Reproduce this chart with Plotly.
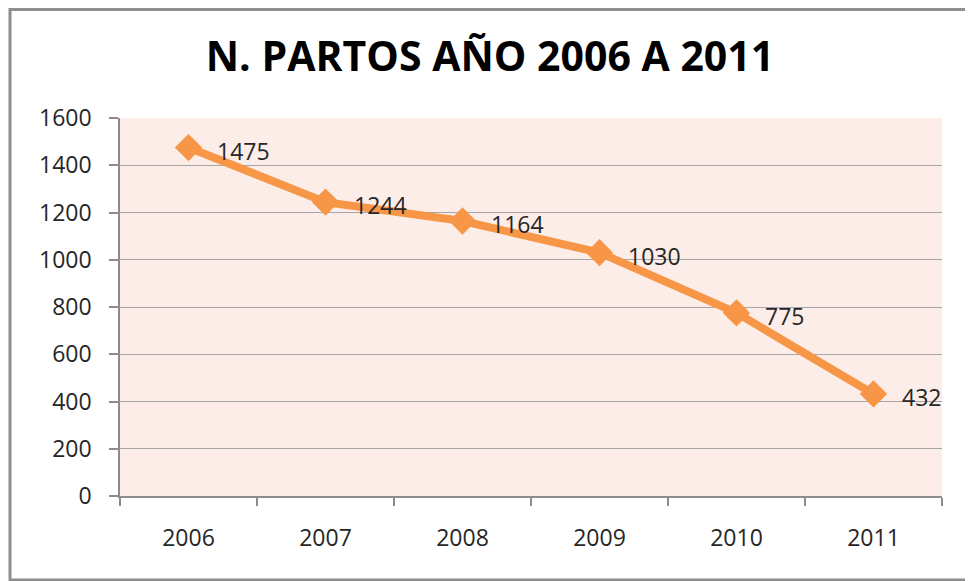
import plotly.graph_objects as go

years = ["2006", "2007", "2008", "2009", "2010", "2011"]
partos = [1475, 1244, 1164, 1030, 775, 432]
y_ticks = [0, 200, 400, 600, 800, 1000, 1200, 1400, 1600]

x_pos = list(range(len(years)))
bounds = [i - 0.5 for i in range(len(years) + 1)]

# figure is placed 8px into the page (body margin), so sizes are compensated
W, H = 965, 573
L, R, T, B = 112, 31, 110, 85
pw = W - L - R
ph = H - T - B
FONT = "Open Sans, sans-serif"

fig = go.Figure()
fig.add_trace(go.Scatter(
    x=x_pos, y=partos,
    mode="lines+markers",
    line=dict(color="#F79646", width=8),
    marker=dict(symbol="diamond", size=21, color="#F79646"),
    cliponaxis=False,
    showlegend=False,
))

annotations = [
    dict(x=xi, y=v, xref="x", yref="y", text=str(v), showarrow=False,
         xanchor="left", yanchor="middle", xshift=26, yshift=-3,
         font=dict(family=FONT, size=23, color="#262626"))
    for xi, v in zip(x_pos, partos)
]

fig.update_layout(
    width=W, height=H,
    margin=dict(l=L, r=R, t=T, b=B),
    paper_bgcolor="white",
    plot_bgcolor="#FCEDE8",
    title=dict(
        text="<b>N. PARTOS AÑO 2006 A 2011</b>",
        x=(490 - 8) / W, xanchor="center", y=1 - 49 / H, yref="container", yanchor="middle",
        font=dict(family=FONT, size=41, color="#000000"),
    ),
    xaxis=dict(
        range=[-0.5, 5.5],
        tickvals=x_pos, ticktext=years,
        ticks="", showgrid=False, zeroline=False,
        showline=True, linecolor="#8C8C8C", linewidth=1.5,
        tickfont=dict(family=FONT, size=23, color="#262626"),
        ticklabelstandoff=21,
        minor=dict(tickvals=bounds, ticks="outside", ticklen=8, tickcolor="#8C8C8C", tickwidth=1.5, showgrid=False),
    ),
    yaxis=dict(
        range=[0, 1600],
        tickvals=y_ticks,
        ticks="outside", ticklen=9, tickcolor="#8C8C8C", tickwidth=1.5,
        showgrid=True, gridcolor="#A6A6A6", gridwidth=1.2,
        zeroline=False,
        showline=True, linecolor="#8C8C8C", linewidth=1.5,
        tickfont=dict(family=FONT, size=23, color="#262626"),
        ticklabelstandoff=13,
    ),
    annotations=annotations,
    shapes=[dict(
        type="rect", xref="paper", yref="paper",
        x0=(2 - L) / pw, x1=(963 - L) / pw,
        y0=(H - B - 572) / ph, y1=(H - B - 1.5) / ph,
        line=dict(color="#8E8E8E", width=3), fillcolor="rgba(0,0,0,0)", layer="below",
    )],
)

fig.write_html("out.html")
